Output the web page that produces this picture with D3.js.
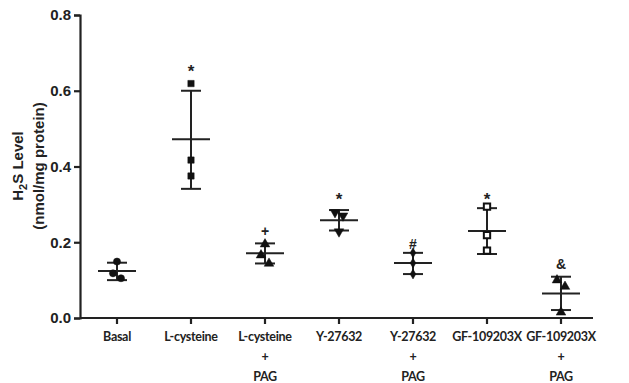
<!DOCTYPE html>
<html>
<head>
<meta charset="utf-8">
<script src="https://cdn.jsdelivr.net/npm/d3@7"></script>
<style>
  body { margin: 0; background: #fff; }
  svg { display: block; }
</style>
</head>
<body>
<div id="chart"></div>
<script>
// groups along the x axis (multi-line labels)
const groups = ['Basal', 'L-cysteine', 'L-cysteine+PAG', 'Y-27632', 'Y-27632+PAG', 'GF-109203X', 'GF-109203X+PAG'];
const groupLabels = [['Basal'], ['L-cysteine'], ['L-cysteine', '+', 'PAG'], ['Y-27632'], ['Y-27632', '+', 'PAG'], ['GF-109203X'], ['GF-109203X', '+', 'PAG']];
// individual replicates (nmol/mg protein)
const points = [
  [0.149, 0.118, 0.105],
  [0.619, 0.417, 0.375],
  [0.195, 0.166, 0.144],
  [0.279, 0.270, 0.228],
  [0.172, 0.145, 0.116],
  [0.294, 0.219, 0.178],
  [0.100, 0.083, 0.015]
];
const means = [0.124, 0.472, 0.171, 0.258, 0.145, 0.230, 0.065];
const sdTop = [0.146, 0.600, 0.197, 0.285, 0.172, 0.290, 0.109];
const sdBottom = [0.100, 0.341, 0.144, 0.231, 0.116, 0.169, 0.021];
const marks = ['', '*', '+', '*', '#', '*', '&'];
const markY = [null, 0.653, 0.230, 0.314, 0.198, 0.314, 0.143];
const shapes = ['circle', 'square', 'triangle', 'triangle-down', 'diamond', 'open-square', 'triangle'];
const jitter = [[0, -1, 1], [0, 0, 0], [0, -1, 1], [-1, 1, 0], [0, 0, 0], [0, 0, 0], [-1, 1, 0]];
const yTicks = [0, 0.2, 0.4, 0.6, 0.8];

const width = 629, height = 383;
const svg = d3.select('#chart').append('svg')
  .attr('width', width)
  .attr('height', height);

const x = d3.scaleBand().domain(groups).range([80, 598]);
const y = d3.scaleLinear().domain([0, 0.8]).range([318, 15]);

// y axis
const yAxis = svg.append('g')
  .attr('transform', 'translate(80,0)')
  .call(d3.axisLeft(y).tickValues(yTicks).tickFormat(d3.format('.1f')).tickSize(6).tickPadding(3));
yAxis.select('.domain').attr('stroke', '#222').attr('stroke-width', 2.2);
yAxis.selectAll('.tick line').attr('stroke', '#222').attr('stroke-width', 2.2);
yAxis.selectAll('.tick text')
  .attr('font-family', 'Liberation Sans, Arial, sans-serif')
  .attr('font-weight', 'bold')
  .attr('font-size', 15)
  .attr('fill', '#222');

// x axis
const xAxis = svg.append('g')
  .attr('transform', 'translate(0,318)')
  .call(d3.axisBottom(x).tickSizeOuter(0).tickSize(6).tickFormat(''));
xAxis.select('.domain').attr('stroke', '#222').attr('stroke-width', 2.2)
  .attr('d', 'M80,0H593');
xAxis.selectAll('.tick line').attr('stroke', '#222').attr('stroke-width', 2.2);

// x labels
const xLab = svg.append('g')
  .selectAll('text')
  .data(groups)
  .join('text')
  .attr('transform', d => `translate(${x(d) + x.bandwidth() / 2},341)`)
  .attr('text-anchor', 'middle')
  .attr('font-family', 'Lato, sans-serif')
  .attr('font-weight', 'bold')
  .attr('font-size', 12.5)
  .attr('letter-spacing', -0.3)
  .attr('fill', '#222');
xLab.each(function(d, i) {
  d3.select(this).selectAll('tspan')
    .data(groupLabels[i])
    .join('tspan')
    .attr('x', 0)
    .attr('y', (t, j) => j * 20)
    .text(t => t);
});

// y title
const title = svg.append('text')
  .attr('transform', 'translate(0,166) rotate(-90)')
  .attr('text-anchor', 'middle')
  .attr('font-family', 'Liberation Sans, Arial, sans-serif')
  .attr('font-weight', 'bold')
  .attr('font-size', 15)
  .attr('fill', '#222');
const t1 = title.append('tspan').attr('x', 0).attr('y', 23);
t1.append('tspan').text('H');
t1.append('tspan').attr('font-size', 11).attr('dy', 4).text('2');
t1.append('tspan').attr('dy', -4).text('S Level');
title.append('tspan').attr('x', 0).attr('y', 44).text('(nmol/mg protein)');

// error bars and means
const g = svg.append('g').attr('stroke', '#222').attr('stroke-width', 2);
groups.forEach((grp, i) => {
  const cx = x(grp) + x.bandwidth() / 2;
  g.append('line').attr('x1', cx).attr('x2', cx).attr('y1', y(sdTop[i])).attr('y2', y(sdBottom[i]));
  g.append('line').attr('x1', cx - 10).attr('x2', cx + 10).attr('y1', y(sdTop[i])).attr('y2', y(sdTop[i]));
  g.append('line').attr('x1', cx - 10).attr('x2', cx + 10).attr('y1', y(sdBottom[i])).attr('y2', y(sdBottom[i]));
  g.append('line').attr('x1', cx - 19).attr('x2', cx + 19).attr('y1', y(means[i])).attr('y2', y(means[i]));
});

// replicate points
const symbolFor = {
  'circle': d3.symbolCircle,
  'square': d3.symbolSquare,
  'triangle': d3.symbolTriangle,
  'triangle-down': d3.symbolTriangle,
  'diamond': d3.symbolDiamond,
  'open-square': d3.symbolSquare
};
groups.forEach((grp, i) => {
  const cx = x(grp) + x.bandwidth() / 2;
  const shape = shapes[i];
  svg.append('g')
    .selectAll('path')
    .data(points[i])
    .join('path')
    .attr('d', d3.symbol().type(symbolFor[shape]).size(shape === 'diamond' ? 28 : 40))
    .attr('transform', (d, j) => `translate(${cx + jitter[i][j] * 4},${y(d)})` + (shape === 'triangle-down' ? ' rotate(180)' : ''))
    .attr('fill', shape === 'open-square' ? '#fff' : '#111')
    .attr('stroke', '#111')
    .attr('stroke-width', shape === 'open-square' ? 2 : 0.5);
});

// significance marks (y value = visual centre of the glyph)
svg.append('g')
  .selectAll('text')
  .data(groups.filter((d, i) => marks[i]))
  .join('text')
  .attr('x', d => x(d) + x.bandwidth() / 2)
  .attr('y', d => {
    const i = groups.indexOf(d);
    return y(markY[i]) + (marks[i] === '*' ? 6 : 5.5);
  })
  .attr('text-anchor', 'middle')
  .attr('font-family', 'Liberation Sans, Arial, sans-serif')
  .attr('font-weight', 'bold')
  .attr('font-size', d => marks[groups.indexOf(d)] === '*' ? 17 : 14)
  .attr('fill', '#222')
  .text(d => marks[groups.indexOf(d)]);
</script>
</body>
</html>
